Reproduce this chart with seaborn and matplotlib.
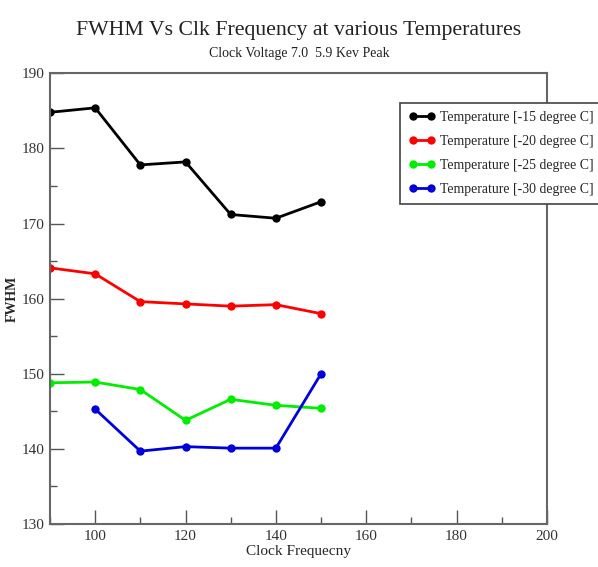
import pandas as pd
import seaborn as sns
import matplotlib.pyplot as plt
from matplotlib.ticker import MultipleLocator

clock_freq = [90, 100, 110, 120, 130, 140, 150]
clock_freq_30 = [100, 110, 120, 130, 140, 150]

fwhm_15 = [184.8, 185.4, 177.8, 178.2, 171.2, 170.7, 172.9]
fwhm_20 = [164.1, 163.3, 159.6, 159.3, 159.0, 159.2, 158.0]
fwhm_25 = [148.8, 148.9, 147.9, 143.8, 146.6, 145.8, 145.4]
fwhm_30 = [145.3, 139.7, 140.3, 140.1, 140.1, 150.0]

labels = ['Temperature [-15 degree C]', 'Temperature [-20 degree C]',
          'Temperature [-25 degree C]', 'Temperature [-30 degree C]']
colors = ['black', '#ff0000', '#00ee00', '#0000dd']

frames = []
for lab, xs, ys in zip(labels,
                       [clock_freq, clock_freq, clock_freq, clock_freq_30],
                       [fwhm_15, fwhm_20, fwhm_25, fwhm_30]):
    frames.append(pd.DataFrame({'Clock': xs, 'FWHM': ys, 'Temp': lab}))
data = pd.concat(frames, ignore_index=True)

sns.set_style('white')
plt.rcParams['font.family'] = ['Liberation Serif', 'DejaVu Serif']

fig = plt.figure(figsize=(5.98, 5.67), dpi=100)
ax = fig.add_axes([0.0836, 0.0758, 0.831, 0.795])

sns.lineplot(data=data, x='Clock', y='FWHM', hue='Temp', palette=colors,
             marker='o', markersize=6, markeredgewidth=0, linewidth=2,
             ax=ax, sort=False)

ax.set_xlim(90, 200)
ax.set_ylim(130, 190)
ax.xaxis.set_major_locator(MultipleLocator(20))
ax.xaxis.set_minor_locator(MultipleLocator(10))
ax.yaxis.set_major_locator(MultipleLocator(10))
ax.yaxis.set_minor_locator(MultipleLocator(5))
ax.tick_params(which='major', direction='in', length=10, width=1,
               color='#555555', labelsize=11, labelcolor='#333333', pad=4)
ax.tick_params(which='minor', direction='in', length=5, width=1, color='#555555')
ax.tick_params(bottom=True, left=True, top=False, right=False, which='both')
for s in ax.spines.values():
    s.set_color('#666666')
    s.set_linewidth(1.5)

ax.set_xlabel('Clock Frequecny', fontsize=11, labelpad=2)
ax.set_ylabel('FWHM', fontsize=10, fontweight='bold', labelpad=2)

fig.text(0.5, 0.947, 'FWHM Vs Clk Frequency at various Temperatures',
         ha='center', va='center', fontsize=15.7, color='#222222')
fig.text(0.5, 0.905, 'Clock Voltage 7.0  5.9 Kev Peak',
         ha='center', va='center', fontsize=10, color='#222222')

# rebuild legend with two markers per handle, boxed like the original
handles, labs = ax.get_legend_handles_labels()
ax.get_legend().remove()
leg = ax.legend(handles, labs, numpoints=2, loc='upper left',
                bbox_to_anchor=(0.705, 0.935), fancybox=False,
                edgecolor='#444444', framealpha=1, fontsize=9.9,
                handlelength=1.9, handletextpad=0.4, borderpad=0.6,
                labelspacing=0.8, borderaxespad=0)
leg.get_frame().set_linewidth(1.2)
leg.set_clip_on(False)

fig.savefig('out.png', dpi=100)
